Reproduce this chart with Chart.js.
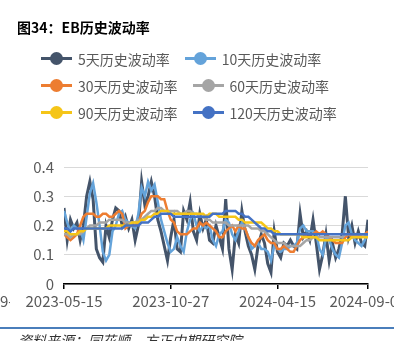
<!DOCTYPE html>
<html>
<head>
<meta charset="utf-8">
<script src="https://cdn.jsdelivr.net/npm/chart.js@4/dist/chart.umd.min.js"></script>
<style>
  html, body { margin: 0; padding: 0; background: #fff; }
  #wrap { position: relative; width: 394px; height: 341px; overflow: hidden; font-family: "Noto Sans CJK SC", sans-serif; }
  #chart { position: absolute; left: 0; top: 0; }
  #title { position: absolute; left: 17px; top: 17px; font-size: 14px; font-weight: bold; color: #000; line-height: 20px; white-space: nowrap; }
  #legend { position: absolute; left: 41px; top: 45px; }
  .row { display: flex; height: 27px; align-items: center; }
  .item { display: flex; align-items: center; margin-right: 15px; }
  .mark { position: relative; width: 31px; height: 13px; margin-right: 6px; }
  .mark .ln { position: absolute; left: 0; top: 5px; width: 31px; height: 3px; }
  .mark .dot { position: absolute; left: 9px; top: 0; width: 13px; height: 13px; border-radius: 50%; }
  .txt { font-size: 14px; color: #595959; white-space: nowrap; line-height: 20px; }
  #rule { position: absolute; left: 0; top: 327px; width: 394px; height: 2px; background: #4A7EBB; }
  #source { position: absolute; left: 18px; top: 331px; font-size: 14px; font-style: italic; color: #333; white-space: nowrap; line-height: 18px; }
</style>
</head>
<body>
<div id="wrap">
  <canvas id="chart" width="394" height="341"></canvas>
  <div id="title">图34：EB历史波动率</div>
  <div id="legend"></div>
  <div id="rule"></div>
  <div id="source">资料来源：同花顺，方正中期研究院</div>
</div>
<script>
const seriesNames = ['5天历史波动率', '10天历史波动率', '30天历史波动率', '60天历史波动率', '90天历史波动率', '120天历史波动率'];
const seriesColors = ['#44546A', '#64A3DA', '#ED7D31', '#A5A5A5', '#F5C518', '#4472C4'];

const xTickIdx = [0, 33, 66, 94];
const xTickLabels = ['2023-05-15', '2023-10-27', '2024-04-15', '2024-09-06'];
const yTicks = [0, 0.1, 0.2, 0.3, 0.4];

const vol5 = [0.26,0.15,0.22,0.19,0.21,0.15,0.20,0.30,0.35,0.29,
  0.12,0.09,0.075,0.20,0.16,0.22,0.26,0.25,0.20,0.23,
  0.19,0.22,0.15,0.20,0.35,0.27,0.30,0.35,0.30,0.22,
  0.18,0.13,0.08,0.16,0.22,0.12,0.11,0.25,0.22,0.28,
  0.18,0.15,0.24,0.19,0.22,0.15,0.14,0.20,0.16,0.12,
  0.29,0.12,0.05,0.17,0.14,0.25,0.18,0.13,0.10,0.05,
  0.13,0.17,0.14,0.07,0.04,0.18,0.11,0.09,0.14,0.13,
  0.15,0.13,0.12,0.24,0.16,0.18,0.15,0.22,0.14,0.05,
  0.10,0.17,0.08,0.14,0.09,0.12,0.17,0.30,0.16,0.20,
  0.14,0.18,0.14,0.13,0.22];
const vol10 = [0.25,0.21,0.18,0.20,0.19,0.19,0.15,0.23,0.31,0.345,
  0.28,0.20,0.11,0.08,0.10,0.18,0.20,0.24,0.25,0.22,
  0.21,0.20,0.19,0.24,0.33,0.30,0.35,0.32,0.34,0.28,
  0.22,0.18,0.14,0.11,0.12,0.16,0.13,0.11,0.18,0.22,
  0.24,0.20,0.18,0.20,0.19,0.20,0.15,0.13,0.17,0.18,
  0.22,0.21,0.17,0.15,0.18,0.21,0.19,0.16,0.12,0.13,
  0.14,0.12,0.12,0.11,0.08,0.13,0.12,0.11,0.12,0.12,
  0.13,0.13,0.14,0.19,0.20,0.18,0.18,0.18,0.17,0.12,
  0.10,0.16,0.15,0.12,0.10,0.09,0.14,0.20,0.21,0.17,
  0.15,0.14,0.13,0.15,0.18];
const vol30 = [0.17,0.16,0.15,0.16,0.17,0.20,0.23,0.24,0.24,0.24,
  0.23,0.23,0.24,0.24,0.23,0.23,0.24,0.25,0.24,0.19,
  0.20,0.20,0.20,0.21,0.24,0.25,0.28,0.30,0.30,0.30,
  0.29,0.29,0.25,0.22,0.21,0.18,0.17,0.17,0.17,0.18,
  0.19,0.19,0.21,0.20,0.21,0.20,0.19,0.18,0.16,0.16,
  0.18,0.19,0.20,0.18,0.20,0.19,0.19,0.16,0.14,0.13,
  0.15,0.16,0.17,0.15,0.14,0.14,0.12,0.12,0.13,0.12,
  0.11,0.11,0.13,0.15,0.16,0.17,0.17,0.17,0.18,0.17,
  0.18,0.17,0.16,0.15,0.14,0.14,0.14,0.16,0.17,0.16,
  0.17,0.16,0.17,0.17,0.18];
const vol60 = [0.17,0.17,0.16,0.17,0.17,0.17,0.18,0.19,0.20,0.20,
  0.20,0.21,0.21,0.21,0.22,0.22,0.22,0.22,0.22,0.21,
  0.21,0.21,0.21,0.22,0.22,0.23,0.24,0.25,0.25,0.26,
  0.26,0.25,0.25,0.25,0.25,0.25,0.24,0.24,0.25,0.25,
  0.24,0.24,0.23,0.23,0.22,0.22,0.21,0.21,0.21,0.21,
  0.21,0.20,0.20,0.20,0.20,0.20,0.20,0.20,0.19,0.19,
  0.19,0.18,0.18,0.17,0.16,0.15,0.14,0.14,0.14,0.13,
  0.13,0.13,0.13,0.13,0.14,0.15,0.15,0.16,0.16,0.16,
  0.16,0.16,0.16,0.16,0.16,0.16,0.16,0.17,0.17,0.17,
  0.17,0.17,0.17,0.17,0.17];
const vol90 = [0.18,0.18,0.17,0.17,0.17,0.18,0.18,0.19,0.19,0.19,
  0.19,0.19,0.19,0.19,0.20,0.20,0.20,0.20,0.20,0.20,
  0.20,0.21,0.21,0.21,0.22,0.22,0.23,0.23,0.24,0.24,
  0.25,0.25,0.25,0.24,0.24,0.24,0.24,0.24,0.24,0.24,
  0.24,0.24,0.24,0.24,0.23,0.24,0.24,0.24,0.23,0.23,
  0.23,0.23,0.23,0.23,0.22,0.22,0.21,0.21,0.21,0.21,
  0.21,0.21,0.20,0.19,0.19,0.18,0.18,0.17,0.17,0.17,
  0.17,0.17,0.17,0.17,0.16,0.16,0.16,0.16,0.16,0.15,
  0.15,0.15,0.15,0.15,0.15,0.15,0.15,0.15,0.15,0.16,
  0.16,0.16,0.16,0.16,0.16];
const vol120 = [0.19,0.19,0.18,0.19,0.19,0.19,0.19,0.19,0.19,0.19,
  0.19,0.19,0.19,0.19,0.19,0.19,0.19,0.19,0.19,0.20,
  0.20,0.20,0.20,0.20,0.21,0.21,0.21,0.22,0.23,0.23,
  0.24,0.24,0.24,0.24,0.23,0.23,0.23,0.23,0.23,0.23,
  0.23,0.23,0.23,0.23,0.23,0.23,0.24,0.24,0.24,0.24,
  0.25,0.25,0.25,0.25,0.24,0.24,0.23,0.23,0.22,0.21,
  0.20,0.19,0.19,0.18,0.18,0.17,0.17,0.17,0.17,0.17,
  0.17,0.17,0.17,0.17,0.17,0.17,0.17,0.17,0.17,0.17,
  0.17,0.17,0.17,0.17,0.17,0.17,0.17,0.17,0.17,0.17,
  0.17,0.17,0.17,0.17,0.17];

const allSeries = [vol5, vol10, vol30, vol60, vol90, vol120];
const lineWidths = [3, 2.5, 2.5, 2.5, 2.5, 2.5];

// legend, two per row like the original
function buildLegend() {
    const box = document.getElementById('legend');
    for (let r = 0; r < 3; r++) {
        const row = document.createElement('div');
        row.className = 'row';
        for (let c = 0; c < 2; c++) {
            const i = r * 2 + c;
            const item = document.createElement('div');
            item.className = 'item';
            item.innerHTML = '<div class="mark"><div class="ln" style="background:' + seriesColors[i] + '"></div>' +
                '<div class="dot" style="background:' + seriesColors[i] + '"></div></div>' +
                '<span class="txt">' + seriesNames[i] + '</span>';
            row.appendChild(item);
        }
        box.appendChild(row);
    }
}
buildLegend();

// bit of the neighbouring chart's axis label peeking in at the left edge
const edgeLabel = {
    id: 'edgeLabel',
    afterDraw(chart) {
        const ctx = chart.ctx;
        ctx.save();
        ctx.beginPath();
        ctx.rect(0, 288, 10, 25);
        ctx.clip();
        ctx.font = '15px "Noto Sans CJK SC"';
        ctx.fillStyle = '#595959';
        ctx.textBaseline = 'middle';
        const pre = ctx.measureText('2024-0').width;
        ctx.fillText('2024-09-06', -pre, 301);
        ctx.restore();
    }
};

const ctx = document.getElementById('chart').getContext('2d');
new Chart(ctx, {
    type: 'line',
    data: {
        datasets: allSeries.map((s, i) => ({
            label: seriesNames[i],
            data: s.map((v, k) => ({ x: k, y: v })),
            borderColor: seriesColors[i],
            backgroundColor: seriesColors[i],
            borderWidth: lineWidths[i],
            pointRadius: 0,
            tension: 0,
            fill: false,
            order: 6 - i
        }))
    },
    options: {
        responsive: false,
        animation: false,
        devicePixelRatio: 1,
        layout: { padding: { left: 0, right: 26, top: 167, bottom: 17 } },
        plugins: { legend: { display: false }, tooltip: { enabled: false } },
        scales: {
            x: {
                type: 'linear',
                min: 0,
                max: xTickIdx[xTickIdx.length - 1],
                afterBuildTicks: (scale) => { scale.ticks = xTickIdx.map(v => ({ value: v })); },
                afterFit: (scale) => { scale.height = 40; scale.paddingLeft = 0; scale.paddingRight = 0; },
                grid: { drawOnChartArea: false, drawTicks: true, tickLength: 5, color: '#000', lineWidth: 1.5 },
                border: { display: true, color: '#000', width: 1.5 },
                ticks: {
                    autoSkip: false,
                    maxRotation: 0,
                    padding: 3,
                    color: '#595959',
                    font: { family: '"Noto Sans CJK SC"', size: 15 },
                    callback: (v) => xTickLabels[xTickIdx.indexOf(v)]
                }
            },
            y: {
                min: 0,
                max: 0.4,
                afterBuildTicks: (scale) => { scale.ticks = yTicks.map(v => ({ value: v })); },
                afterFit: (scale) => { scale.width = 64; },
                grid: { color: '#D9D9D9', lineWidth: 1, drawTicks: false },
                border: { display: false },
                ticks: {
                    padding: 10,
                    color: '#595959',
                    font: { family: '"Noto Sans CJK SC"', size: 15 },
                    callback: (v) => v === 0 ? '0' : v.toFixed(1)
                }
            }
        }
    },
    plugins: [edgeLabel]
});
</script>
</body>
</html>
